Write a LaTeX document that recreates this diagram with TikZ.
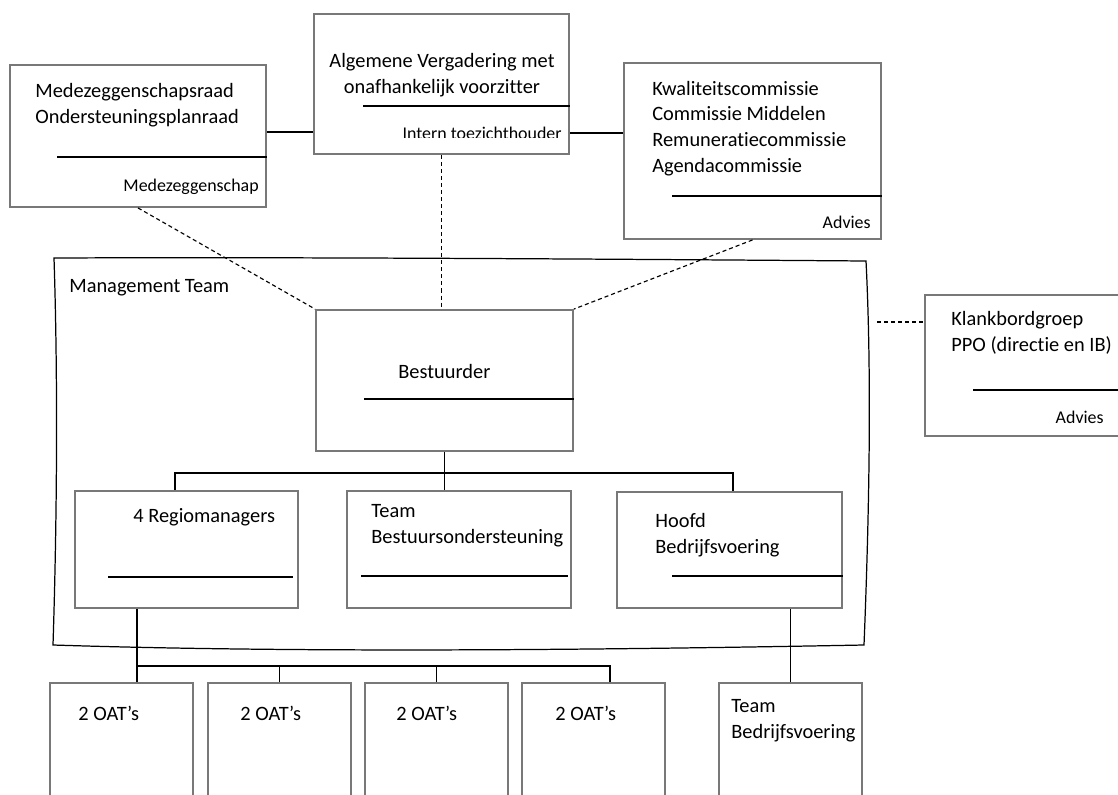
\documentclass[tikz,border=0pt]{standalone}
\usepackage{fontspec}
\setmainfont{Carlito}[Ligatures=NoCommon]
\definecolor{boxgray}{RGB}{120,120,120}

\begin{document}
\begin{tikzpicture}[x=.02cm, y=-.02cm,
          box/.style 2 args = {draw=boxgray, line width=1.1pt, minimum width=#1, minimum height=#2, inner sep=0pt},
          txt/.style = {inner sep=0pt, align=left, font=\fontsize{11.6}{14.6}\selectfont},
          small/.style = {inner sep=0pt, font=\fontsize{10.2}{12}\selectfont},
          sepline/.style = {line width=.6pt},
          link/.style = {line width=.65pt},
          advline/.style = {line width=.65pt, dash pattern=on 2.3pt off 1.7pt}
          ]
  \useasboundingbox (0,0) rectangle (1118,794);
  \clip (0,0) rectangle (1118,794);

  % toezicht en advies
  \node[box={5.12cm}{2.84cm}] (med) at (138,136) {};
  \node[box={5.10cm}{2.80cm}] (av) at (441.5,84) {};
  \node[box={5.14cm}{3.52cm}] (kwal) at (752.5,151) {};
  \node[box={4.10cm}{2.82cm}] (klank) at (1027.5,365.5) {};

  \node[txt, anchor=west] (medtxt) at (35,105) {Medezeggenschapsraad\\Ondersteuningsplanraad};
  \node[small, anchor=east] (medsub) at (259,187) {Medezeggenschap};
  \node[txt, align=center] (avtxt) at (442,75) {Algemene Vergadering met\\onafhankelijk voorzitter};
  \begin{scope}
    \clip (314,115) rectangle (569,137.5);
    \node[small, anchor=east] (avsub) at (562,133) {Intern toezichthouder};
  \end{scope}
  \node[txt, anchor=west] (kwaltxt) at (652,128.5) {Kwaliteitscommissie\\Commissie Middelen\\Remuneratiecommissie\\Agendacommissie};
  \node[small, anchor=east] (kwalsub) at (871,222) {Advies};
  \node[txt, anchor=west] (klanktxt) at (951,333) {Klankbordgroep\\PPO (directie en IB)};
  \node[small, anchor=east] (klanksub) at (1104,417) {Advies};

  % management team
  \draw[line width=.7pt] (54,258) .. controls (300,257) and (600,259) .. (866,261)
    .. controls (872,380) and (869,520) .. (864,645)
    .. controls (600,650) and (300,653) .. (53,645)
    .. controls (57,520) and (58,380) .. (54,258) -- cycle;
  \node[txt, anchor=west] (mttxt) at (69,288) {Management Team};

  \node[box={5.14cm}{2.82cm}] (best) at (444.5,380.5) {};
  \node[box={4.46cm}{2.34cm}] (regio) at (186.5,549.5) {};
  \node[box={4.48cm}{2.34cm}] (tbo) at (459,549.5) {};
  \node[box={4.50cm}{2.32cm}] (hoofd) at (729.5,550) {};

  \node[txt, anchor=west] (besttxt) at (398,371) {Bestuurder};
  \node[txt, anchor=west] (regiotxt) at (133,517) {4 Regiomanagers};
  \node[txt, anchor=west] (tbotxt) at (371,526) {Team\\Bestuursondersteuning};
  \node[txt, anchor=west] (hoofdtxt) at (655,535) {Hoofd\\Bedrijfsvoering};

  % uitvoering
  \foreach \i/\x/\tx in {1/121.5/78, 2/279.5/240, 3/436.5/396, 4/593.5/555}{
    \node[box={2.86cm}{2.94cm}] (oat\i) at (\x,756.5) {};
    \node[txt, anchor=west] (oattxt\i) at (\tx,713) {2 OAT’s};
  }
  \node[box={2.86cm}{2.94cm}] (tbv) at (790.5,756.5) {};
  \node[txt, anchor=west] (tbvtxt) at (731,721) {Team\\Bedrijfsvoering};

  % lijnen in de vakken
  \draw[sepline] (57,157) -- (med.east |- 0,157);
  \draw[sepline] (363,106) -- (av.east |- 0,106);
  \draw[sepline] (672,196) -- (kwal.east |- 0,196);
  \draw[sepline] (973,390) -- (1125,390);
  \draw[sepline] (364,399) -- (best.east |- 0,399);
  \draw[sepline] (108,577) -- (293,577);
  \draw[sepline] (361,576) -- (568,576);
  \draw[sepline] (672,576) -- (843,576);

  % verbindingen
  \draw[link] ([yshift=.08cm]med.east) -- ([yshift=.08cm]med.east -| av.west);
  \draw[link] ([yshift=.44cm]av.south east) -- ([yshift=.44cm]av.south east -| kwal.west);
  \draw[advline] (av.south) -- (av.south |- best.north);
  \draw[advline] (med.south) -- (best.north west);
  \draw[advline] (kwal.south) -- (best.north east);
  \coordinate (mtr) at (877,322);
  \draw[advline] (mtr) -- (mtr -| klank.west);

  \coordinate (bbus) at (445,473);
  \draw[link] (best.south) -- (best.south |- tbo.north);
  \draw[link] ([xshift=-.23cm]regio.north) |- (bbus) -| ([xshift=.07cm]hoofd.north);

  \coordinate (rb) at ([xshift=1.26cm]regio.south west);
  \draw[link] (rb) -- (rb |- oat1.north);
  \draw[link] (rb |- 0,666) -| ([xshift=.33cm]oat4.north);
  \foreach \i in {2,3}
    \draw[link] (oat\i.north) -- ++(0,-17);
  \draw[link] (tbv.north |- hoofd.south) -- (tbv.north);
\end{tikzpicture}
\end{document}
